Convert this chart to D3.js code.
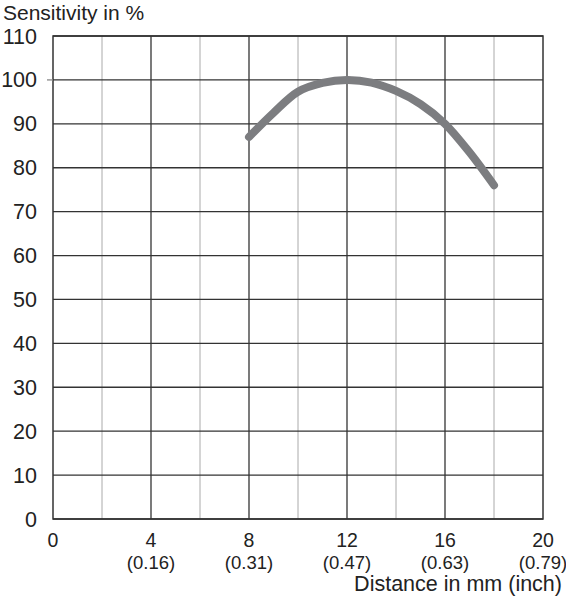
<!DOCTYPE html>
<html><head><meta charset="utf-8">
<script src="https://cdn.jsdelivr.net/npm/d3@7"></script>
<style>body{margin:0;background:#fff}svg{display:block}text{font-family:"Liberation Sans",Arial,sans-serif;fill:#222}</style>
</head><body>
<svg id="c" width="566" height="600"></svg>
<script>
const distance = [8, 9, 10, 11, 12, 13, 14, 15, 16, 17, 18];
const sensitivity = [87, 92.5, 97.3, 99.3, 100, 99.4, 97.5, 94.5, 90, 83.5, 76];
const xTicks = [0, 4, 8, 12, 16, 20];
const xInch = ["", "(0.16)", "(0.31)", "(0.47)", "(0.63)", "(0.79)"];
const yTicks = [0, 10, 20, 30, 40, 50, 60, 70, 80, 90, 100, 110];

const svg = d3.select("#c");
const x = d3.scaleLinear().domain([0, 20]).range([53, 543]);
const y = d3.scaleLinear().domain([0, 110]).range([519, 36]);

const g = svg.append("g");
d3.range(2, 20, 2).forEach(v => {
  g.append("line").attr("x1", x(v)).attr("x2", x(v)).attr("y1", y(0)).attr("y2", y(110))
    .attr("stroke", v % 4 === 0 ? "#333" : "#aaa").attr("stroke-width", v % 4 === 0 ? 1.3 : 1);
});
yTicks.forEach(v => {
  g.append("line").attr("x1", x(0)).attr("x2", x(20)).attr("y1", y(v)).attr("y2", y(v))
    .attr("stroke", "#333").attr("stroke-width", 1.3);
});
g.append("rect").attr("x", x(0)).attr("y", y(110)).attr("width", x(20) - x(0)).attr("height", y(0) - y(110))
  .attr("fill", "none").attr("stroke", "#333").attr("stroke-width", 1.5);
g.append("line").attr("x1", x(0) - 6).attr("x2", x(0)).attr("y1", y(100)).attr("y2", y(100)).attr("stroke", "#888").attr("stroke-width", 1.3);

svg.append("g").selectAll("text").data(yTicks).join("text")
  .attr("x", 37).attr("y", d => y(d) + 7.5).attr("text-anchor", "end")
  .style("font-size", "21.5px").text(d => d);

const xl = svg.append("g");
xTicks.forEach((v, i) => {
  xl.append("text").attr("x", x(v)).attr("y", 547).attr("text-anchor", "middle").style("font-size", "19.5px").text(v);
  if (xInch[i]) xl.append("text").attr("x", x(v)).attr("y", 569).attr("text-anchor", "middle").style("font-size", "18.5px").text(xInch[i]);
});

svg.append("text").attr("x", 3).attr("y", 20).style("font-size", "21px").text("Sensitivity in %");
svg.append("text").attr("x", 562).attr("y", 591).attr("text-anchor", "end").style("font-size", "21.5px").text("Distance in mm (inch)");

const line = d3.line().x((d, i) => x(distance[i])).y(d => y(d)).curve(d3.curveCatmullRom.alpha(0.5));
svg.append("path").datum(sensitivity).attr("d", line)
  .attr("fill", "none").attr("stroke", "#7c7d80").attr("stroke-width", 8).attr("stroke-linecap", "round").attr("stroke-linejoin", "round");
</script>
</body></html>
